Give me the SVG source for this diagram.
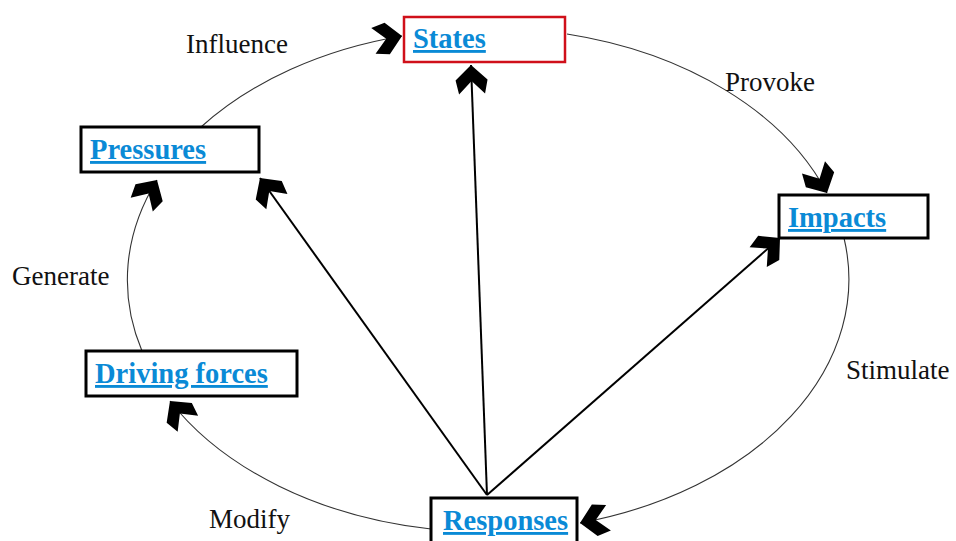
<svg xmlns="http://www.w3.org/2000/svg" width="956" height="541" viewBox="0 0 956 541">
<style>
.box{fill:#fff;stroke:#000;stroke-width:3}
.red{stroke:#d0101a;stroke-width:2.5}
.node{font-family:"Liberation Serif","Times New Roman",serif;font-weight:bold;font-size:28.5px;fill:#0a8ad6;text-decoration:underline;text-decoration-thickness:2.5px}
.lbl{font-family:"Liberation Serif","Times New Roman",serif;font-size:27px;fill:#111}
.arc{fill:none;stroke:#333;stroke-width:1.1}
.ln{fill:none;stroke:#000;stroke-width:2}
</style>
<defs>
<marker id="chev" markerUnits="userSpaceOnUse" viewBox="-32 -18 34 36" markerWidth="34" markerHeight="36" refX="0" refY="0" orient="auto">
<polygon points="0,0 -15,-16 -29,-13 -16,0 -29,13 -15,16" fill="#000"/>
</marker>
</defs>
<rect width="956" height="541" fill="#fff"/>
<g id="connectors">
<path class="arc" d="M201,127 A361,252 0 0 1 402,36" marker-end="url(#chev)"/>
<path class="arc" d="M567,34 A361,252 0 0 1 827,193" marker-end="url(#chev)"/>
<path class="arc" d="M844,238 A361,252 0 0 1 580,523" marker-end="url(#chev)"/>
<path class="arc" d="M431,529 A361,252 0 0 1 170,401" marker-end="url(#chev)"/>
<path class="arc" d="M142,351 A361,252 0 0 1 157,180" marker-end="url(#chev)"/>
<path class="ln" d="M487,495 L471,65" marker-end="url(#chev)"/>
<path class="ln" d="M487,495 L260,178" marker-end="url(#chev)"/>
<path class="ln" d="M487,495 L780,238" marker-end="url(#chev)"/>
</g>
<g id="labels">
<text class="lbl" x="186" y="53">Influence</text>
<text class="lbl" x="725" y="91">Provoke</text>
<text class="lbl" x="12" y="285">Generate</text>
<text class="lbl" x="846" y="379">Stimulate</text>
<text class="lbl" x="209" y="528">Modify</text>
</g>
<g id="states">
<rect class="box red" x="404" y="17" width="161" height="45"/>
<text class="node" x="413" y="48">States</text>
</g>
<g id="pressures">
<rect class="box" x="81" y="127" width="178" height="45"/>
<text class="node" x="90" y="159">Pressures</text>
</g>
<g id="impacts">
<rect class="box" x="779" y="195" width="149" height="43"/>
<text class="node" x="788" y="227">Impacts</text>
</g>
<g id="driving-forces">
<rect class="box" x="86" y="351" width="211" height="45"/>
<text class="node" x="95" y="383">Driving forces</text>
</g>
<g id="responses">
<rect class="box" x="431" y="498" width="146" height="50"/>
<text class="node" x="443" y="530">Responses</text>
</g>
</svg>
